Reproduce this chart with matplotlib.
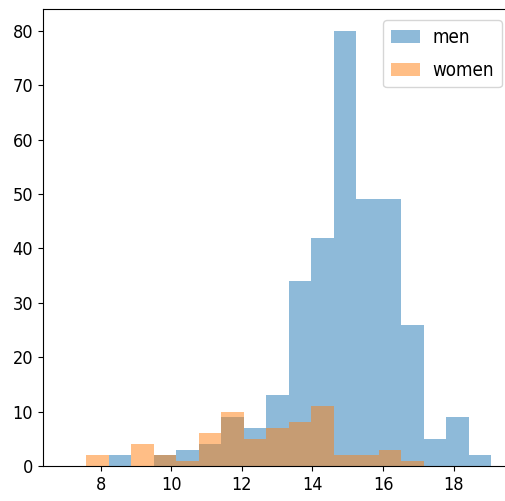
import numpy as np
import matplotlib
matplotlib.use("Agg")
import matplotlib.pyplot as plt

# bin edges shared by both groups
bin_lo = 7.6
bin_hi = 19.06
n_bins = 18

men_counts = [0, 2, 0, 2, 3, 4, 9, 7, 13, 34, 42, 80, 49, 49, 26, 5, 9, 2]
women_counts = [2, 0, 4, 2, 1, 6, 10, 5, 7, 8, 11, 2, 2, 3, 1, 0, 0, 0]

plt.rcParams['font.family'] = ['DejaVu Sans']
plt.rcParams['font.stretch'] = 'condensed'
plt.rcParams['font.size'] = 13

edges = np.linspace(bin_lo, bin_hi, n_bins + 1)
centers = (edges[:-1] + edges[1:]) / 2

fig = plt.figure(figsize=(5.05, 5.01), dpi=100)
ax = fig.add_axes([43 / 505, 35 / 501, 470 / 505, 457 / 501])

ax.hist(centers, bins=edges, weights=men_counts, alpha=0.5, label='men')
ax.hist(centers, bins=edges, weights=women_counts, alpha=0.5, label='women')

ax.set_xlim(6.37, 19.68)
ax.set_xticks([8, 10, 12, 14, 16, 18])
ax.set_yticks(range(0, 81, 10))
ax.spines['right'].set_visible(False)
ax.legend(loc='upper right', fontsize=13.5, handlelength=1.55,
          handletextpad=0.7, labelspacing=0.75, borderaxespad=0.6)

fig.savefig('out.png', dpi=100)
